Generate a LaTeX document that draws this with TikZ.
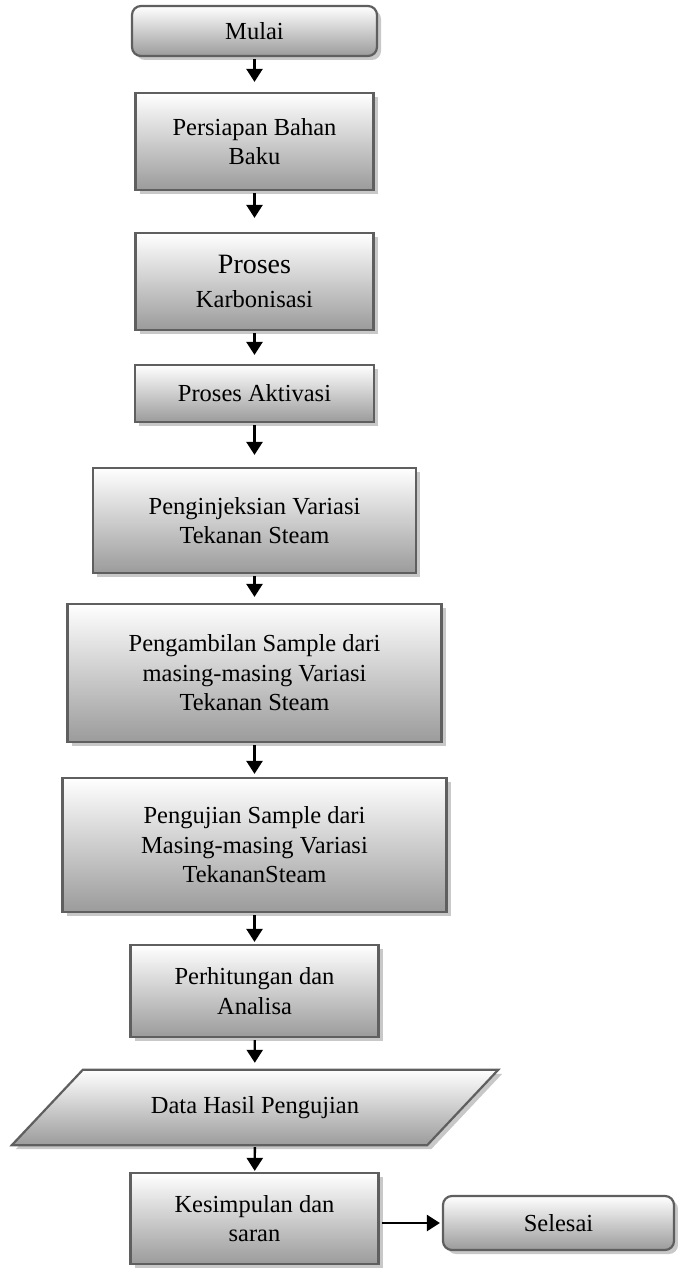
\documentclass[tikz,border=0pt]{standalone}
\usepackage{fontspec}
\setmainfont{Liberation Serif}
\usetikzlibrary{arrows.meta,shadows}
\definecolor{edgec}{RGB}{95,95,95}
\definecolor{shadc}{RGB}{200,200,200}
\definecolor{botc}{RGB}{155,155,155}
\begin{document}
\begin{tikzpicture}[x=1pt,y=-1pt,
  font=\fontsize{24.5}{29.5}\selectfont,
  box/.style={rectangle, draw=edgec, line width=2.2pt, top color=white, bottom color=botc,
    align=center, inner sep=2pt,
    general shadow={fill=shadc, shadow xshift=4pt, shadow yshift=-4pt}},
  term/.style={box, rounded corners=9pt},
  conn/.style={line width=2.4pt, -{Triangle[width=16pt,length=13pt]}, shorten <=2pt}]
\useasboundingbox (0,0) rectangle (677,1268);

\node[term, minimum width=245pt, minimum height=50pt] (mulai) at (254.5,31) {Mulai};
\node[box, minimum width=238pt, minimum height=97pt] (persiapan) at (254.5,141.5) {Persiapan Bahan\\Baku};
\node[box, minimum width=238pt, minimum height=97pt] (karbon) at (254.5,281.5) {{\fontsize{28}{32}\selectfont Proses}\\[5pt]Karbonisasi};
\node[box, minimum width=239pt, minimum height=57pt] (aktivasi) at (254.5,393.5) {Proses Aktivasi};
\node[box, minimum width=323pt, minimum height=105pt] (injeksi) at (254.5,520.5) {Penginjeksian Variasi\\Tekanan Steam};
\node[box, minimum width=374pt, minimum height=138pt] (ambil) at (254.5,673) {Pengambilan Sample dari\\masing-masing Variasi\\Tekanan Steam};
\node[box, minimum width=384pt, minimum height=134pt] (uji) at (254.5,845) {Pengujian Sample dari\\Masing-masing Variasi\\TekananSteam};
\node[box, minimum width=248pt, minimum height=92pt] (hitung) at (254.5,991) {Perhitungan dan\\Analisa};

% data parallelogram
\node[minimum width=344pt, minimum height=75pt, inner sep=0pt] (data) at (255,1107.5) {};
\fill[shadc] ([shift={(4,4)}]data.north west) -- ([shift={(75,4)}]data.north east)
  -- ([shift={(4,4)}]data.south east) -- ([shift={(-67,4)}]data.south west) -- cycle;
\path[draw=edgec, line width=2.2pt, top color=white, bottom color=botc]
  (data.north west) -- ([xshift=71pt]data.north east) -- (data.south east)
  -- ([xshift=-71pt]data.south west) -- cycle;
\node at (data.center) {Data Hasil Pengujian};

\node[box, minimum width=248pt, minimum height=91pt] (simpul) at (254.5,1218.5) {Kesimpulan dan\\saran};
\node[term, minimum width=231pt, minimum height=54pt] (selesai) at (558.5,1223) {Selesai};

\draw[conn, shorten >=10pt] (mulai) -- (persiapan);
\draw[conn, shorten >=14pt] (persiapan) -- (karbon);
\draw[conn, shorten >=9pt] (karbon) -- (aktivasi);
\draw[conn, shorten >=12pt] (aktivasi) -- (injeksi);
\draw[conn, shorten >=6pt] (injeksi) -- (ambil);
\draw[conn, shorten >=3pt] (ambil) -- (uji);
\draw[conn, shorten >=2pt] (uji) -- (hitung);
\draw[conn, shorten >=7pt] (hitung) -- (data);
\draw[conn, shorten >=1pt] (data) -- (simpul);
\draw[conn, shorten >=2pt] (simpul.east |- selesai.west) -- (selesai.west);
\end{tikzpicture}
\end{document}
